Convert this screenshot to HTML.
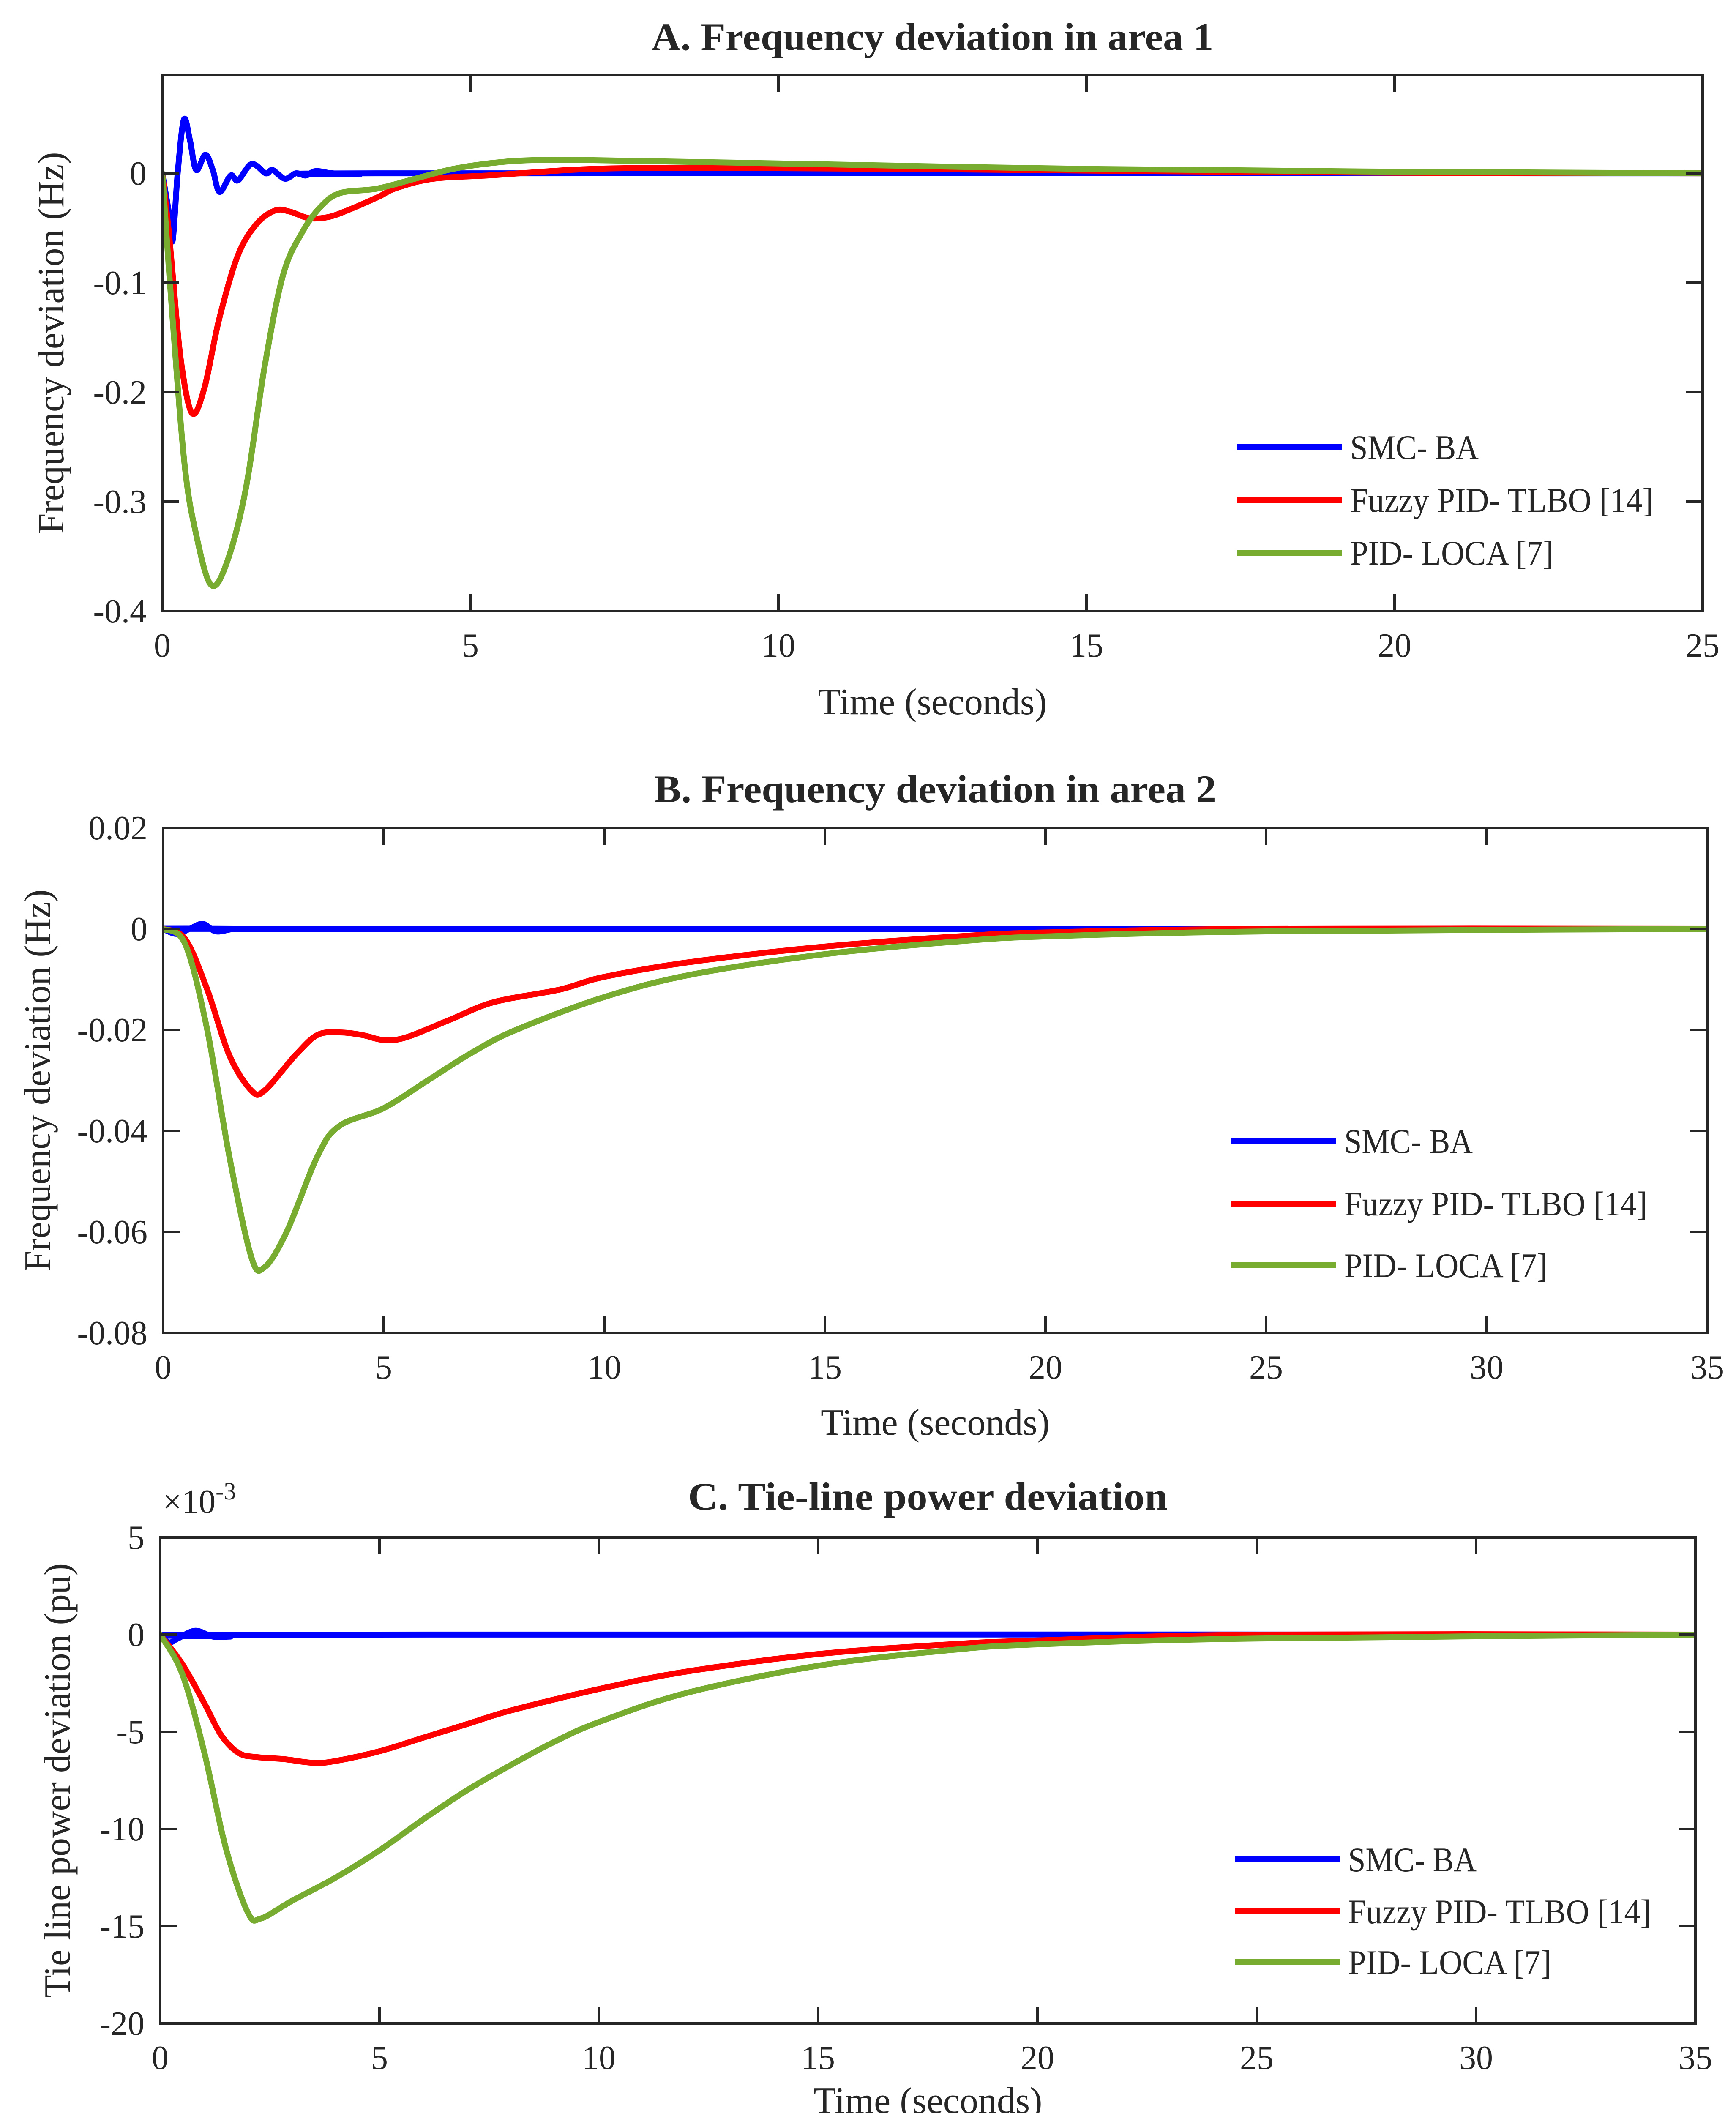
<!DOCTYPE html>
<html><head><meta charset="utf-8">
<style>
html,body{margin:0;padding:0;background:#fff;width:4108px;height:5095px;overflow:hidden;}
svg{display:block;}
text{font-family:"Liberation Serif",serif;fill:#262626;}
</style></head>
<body>
<svg id="fig" width="4108" height="5095" viewBox="0 0 4108 5095" xmlns="http://www.w3.org/2000/svg"></svg>
<script>
// ---- Panel A data ----
const aBlueT=[0,0.12,0.17,0.25,0.35,0.45,0.55,0.7,0.82,0.93,1.11,1.23,1.45,1.68,1.79,1.99,2.17,2.33,2.49,2.76,3.2,4,25];
const aBlueV=[0,-0.04,-0.061,0.0,0.049,0.03,0.003,0.017,0.003,-0.017,-0.002,-0.0065,0.0085,0,0.003,-0.005,0,-0.002,0.002,0,-0.001,0,0];
const aRedT=[0,0.1,0.17,0.3,0.48,0.68,0.92,1.22,1.52,1.83,2.07,2.38,2.69,3.0,3.49,3.8,4.4,5.37,7,9,12,16,20,25];
const aRedV=[0,-0.05,-0.093,-0.17,-0.219,-0.197,-0.134,-0.076,-0.047,-0.034,-0.035,-0.041,-0.04,-0.034,-0.022,-0.0135,-0.005,-0.0017,0.004,0.005,0.004,0.002,0.0005,0];
const aGreenT=[0,0.15,0.36,0.55,0.79,1.04,1.35,1.66,1.96,2.27,2.58,2.89,3.49,4.1,4.72,5.37,6.0,7.0,10,15,20,25];
const aGreenV=[0,-0.12,-0.265,-0.33,-0.376,-0.357,-0.29,-0.177,-0.093,-0.054,-0.03,-0.018,-0.014,-0.005,0.004,0.0095,0.012,0.012,0.009,0.004,0.0015,0];
const aYTicks=[0,-0.1,-0.2,-0.3,-0.4];
const aYTickLabels=["0","-0.1","-0.2","-0.3","-0.4"];
const aXTicks=[0,5,10,15,20,25];

// ---- Panel B data ----
const bBlueT=[0,0.3,0.6,0.9,1.2,1.6,2,35];
const bBlueV=[0,-0.001,0,0.001,-0.0005,0,0,0];
const bRedT=[0,0.5,1,1.5,2,2.3,3,3.5,4,4.5,5,5.5,6.5,7.5,9,10,12,15,18,20,25,35];
const bRedV=[0,-0.002,-0.012,-0.025,-0.032,-0.032,-0.025,-0.021,-0.0205,-0.021,-0.022,-0.0215,-0.018,-0.0145,-0.012,-0.0095,-0.0065,-0.0035,-0.0015,-0.0007,0,0];
const bGreenT=[0,0.5,1,1.5,2,2.3,2.8,3.5,4,5,6,7,8,10,12,15,18,20,25,35];
const bGreenV=[0,-0.003,-0.02,-0.045,-0.065,-0.067,-0.06,-0.045,-0.039,-0.0355,-0.03,-0.0245,-0.02,-0.0135,-0.009,-0.005,-0.0025,-0.0015,-0.0005,0];
const bYTicks=[0.02,0,-0.02,-0.04,-0.06,-0.08];
const bYTickLabels=["0.02","0","-0.02","-0.04","-0.06","-0.08"];
const bXTicks=[0,5,10,15,20,25,30,35];

// ---- Panel C data (x1e-3) ----
const cBlueT=[0,0.2,0.4,0.8,1.2,1.6,2.5,35];
const cBlueV=[0,-0.4,-0.2,0.2,-0.1,-0.1,0,0];
const cRedT=[0,0.5,1,1.4,1.8,2.2,2.8,3.5,4,5,6,7,8,10,12,15,18,20,25,35];
const cRedV=[0,-1.5,-3.5,-5.2,-6.1,-6.3,-6.4,-6.6,-6.5,-6.0,-5.3,-4.6,-3.9,-2.8,-1.9,-1.0,-0.5,-0.3,0,0];
const cGreenT=[0,0.5,1,1.5,2,2.3,3,4,5,6,7,8,9,10,12,15,18,20,25,35];
const cGreenV=[0,-2,-6,-11,-14.3,-14.6,-13.7,-12.5,-11.1,-9.5,-8,-6.7,-5.5,-4.5,-3,-1.6,-0.8,-0.5,-0.2,0];
const cYTicks=[5,0,-5,-10,-15,-20];
const cYTickLabels=["5","0","-5","-10","-15","-20"];
const cXTicks=[0,5,10,15,20,25,30,35];

const legendNames=["SMC- BA","Fuzzy PID- TLBO [14]","PID- LOCA [7]"];
const legendWidths=[304,717,481];
const colors=["#0000ff","#ff0000","#77ac30"];

const NS="http://www.w3.org/2000/svg";
const svg=document.getElementById('fig');
function mk(tag,attrs,parent){const e=document.createElementNS(NS,tag);for(const k in attrs)e.setAttribute(k,attrs[k]);(parent||svg).appendChild(e);return e;}
function smoothPath(pts){
  let d="M"+pts[0][0].toFixed(1)+","+pts[0][1].toFixed(1);
  for(let i=0;i<pts.length-1;i++){
    const p0=pts[Math.max(0,i-1)],p1=pts[i],p2=pts[i+1],p3=pts[Math.min(pts.length-1,i+2)];
    const c1=[p1[0]+(p2[0]-p0[0])/6,p1[1]+(p2[1]-p0[1])/6];
    const c2=[p2[0]-(p3[0]-p1[0])/6,p2[1]-(p3[1]-p1[1])/6];
    d+=" C"+c1[0].toFixed(1)+","+c1[1].toFixed(1)+" "+c2[0].toFixed(1)+","+c2[1].toFixed(1)+" "+p2[0].toFixed(1)+","+p2[1].toFixed(1);
  }
  return d;
}

function panel(cfg){
  const g=mk('g',{});
  
  
  const {L,R,T,B,xmin,xmax,ymin,ymax}=cfg;
  const sx=v=>L+(v-xmin)/(xmax-xmin)*(R-L);
  const sy=v=>B-(v-ymin)/(ymax-ymin)*(B-T);
  const clip=mk('clipPath',{id:cfg.name+'-clip'},g);
  mk('rect',{x:L,y:T,width:R-L,height:B-T},clip);
  const sg=mk('g',{'clip-path':'url(#'+cfg.name+'-clip)'},g);
  cfg.series.forEach((s,i)=>{
    const pts=s.t.map((t,j)=>[sx(t),sy(s.v[j])]);
    const p=mk('path',{d:smoothPath(pts),fill:'none',stroke:colors[i],'stroke-width':14,'stroke-linejoin':'round','stroke-linecap':'round'},sg);
    
    
  });
  const box=mk('rect',{x:L,y:T,width:R-L,height:B-T,fill:'none',stroke:'#262626','stroke-width':6},g);
  
  
  const tl=40;
  cfg.xticks.forEach(v=>{
    const x=sx(v);
    mk('line',{x1:x,y1:B,x2:x,y2:B-tl,stroke:'#262626','stroke-width':6},g);
    mk('line',{x1:x,y1:T,x2:x,y2:T+tl,stroke:'#262626','stroke-width':6},g);
    const t=mk('text',{x:x,y:B+108,'text-anchor':'middle','font-size':80},g);
    t.textContent=String(v);
    
    
  });
  cfg.yticks.forEach((v,i)=>{
    const y=sy(v);
    mk('line',{x1:L,y1:y,x2:L+tl,y2:y,stroke:'#262626','stroke-width':6},g);
    mk('line',{x1:R,y1:y,x2:R-tl,y2:y,stroke:'#262626','stroke-width':6},g);
    const t=mk('text',{x:L-37,y:y+27,'text-anchor':'end','font-size':80},g);
    t.textContent=cfg.ylabels[i];
    
    
  });
  const title=mk('text',{x:(L+R)/2,y:cfg.titleY,'text-anchor':'middle','font-size':92,'font-weight':'bold'},g);
  title.textContent=cfg.title;
  if(cfg.titleW){title.setAttribute('textLength',cfg.titleW);title.setAttribute('lengthAdjust','spacingAndGlyphs');}
  
  
  const xl=mk('text',{x:(L+R)/2,y:cfg.xlabelY,'text-anchor':'middle','font-size':88},g);
  xl.textContent='Time (seconds)';
  
  
  const yl=mk('text',{x:0,y:0,'text-anchor':'middle','font-size':88,transform:'translate('+cfg.ylabelX+','+((T+B)/2)+') rotate(-90)'},g);
  yl.textContent=cfg.ylabel;
  
  
  cfg.legendY.forEach((ly,i)=>{
    const lg=mk('g',{},g);
    
    
    mk('line',{x1:cfg.legendX,y1:ly,x2:cfg.legendX+248,y2:ly,stroke:colors[i],'stroke-width':14},lg);
    const t=mk('text',{x:cfg.legendX+268,y:ly+28,'font-size':82,textLength:legendWidths[i],lengthAdjust:'spacingAndGlyphs'},lg);
    t.textContent=legendNames[i];
  });
  return g;
}

panel({name:'panel-a',L:384,R:4029,T:177,B:1446,xmin:0,xmax:25,ymin:-0.4,ymax:0.09,
  series:[{key:'smc',t:aBlueT,v:aBlueV},{key:'fuzzy',t:aRedT,v:aRedV},{key:'pid',t:aGreenT,v:aGreenV}],
  xticks:aXTicks,yticks:aYTicks,ylabels:aYTickLabels,title:'A. Frequency deviation in area 1',titleW:1330,titleY:118,xlabelY:1690,
  ylabel:'Frequency deviation (Hz)',ylabelX:150,legendX:2927,legendY:[1058,1183,1308]});
panel({name:'panel-b',L:386,R:4040,T:1959,B:3154,xmin:0,xmax:35,ymin:-0.08,ymax:0.02,
  series:[{key:'smc',t:bBlueT,v:bBlueV},{key:'fuzzy',t:bRedT,v:bRedV},{key:'pid',t:bGreenT,v:bGreenV}],
  xticks:bXTicks,yticks:bYTicks,ylabels:bYTickLabels,title:'B. Frequency deviation in area 2',titleW:1330,titleY:1898,xlabelY:3395,
  ylabel:'Frequency deviation (Hz)',ylabelX:118,legendX:2913,legendY:[2700,2848,2994]});
panel({name:'panel-c',L:379,R:4012,T:3638,B:4788,xmin:0,xmax:35,ymin:-20,ymax:5,
  series:[{key:'smc',t:cBlueT,v:cBlueV},{key:'fuzzy',t:cRedT,v:cRedV},{key:'pid',t:cGreenT,v:cGreenV}],
  xticks:cXTicks,yticks:cYTicks,ylabels:cYTickLabels,title:'C. Tie-line power deviation',titleW:1135,titleY:3572,xlabelY:5000,
  ylabel:'Tie line power deviation (pu)',ylabelX:165,legendX:2922,legendY:[4400,4523,4643]});
const exp=mk('text',{x:385,y:3580,'font-size':80});


exp.innerHTML='×10<tspan dy="-32" font-size="58">-3</tspan>';
</script>
</body></html>
